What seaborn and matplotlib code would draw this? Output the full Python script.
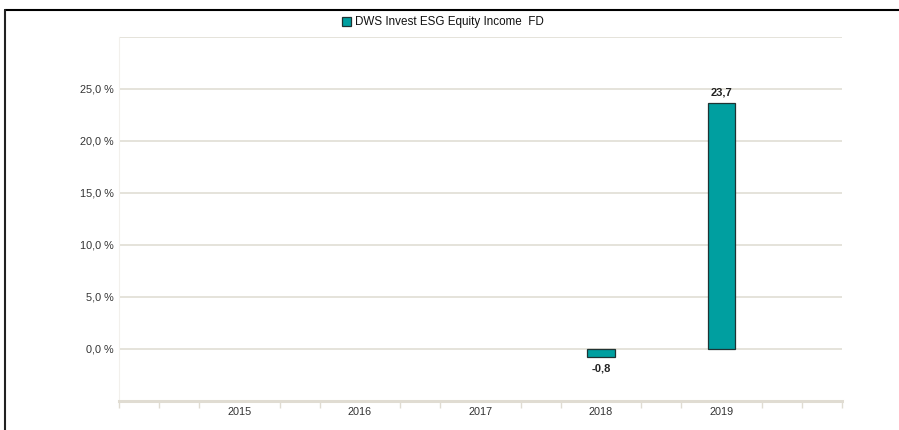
import numpy as np
import pandas as pd
import matplotlib
matplotlib.use("Agg")
import matplotlib.pyplot as plt
import seaborn as sns
from matplotlib.lines import Line2D
from matplotlib.patches import Rectangle

# Data
years = ["2015", "2016", "2017", "2018", "2019"]
returns = [np.nan, np.nan, np.nan, -0.8, 23.7]
series_name = "DWS Invest ESG Equity Income  FD"
ytick_values = [0, 5, 10, 15, 20, 25]

sns.set_theme(style="white")
plt.rcParams["font.family"] = ["Liberation Sans", "DejaVu Sans"]

bar_color = "#009fa0"
grid_color = "#e3e0d8"
axis_color = "#e0dcd2"
text_color = "#333333"

df = pd.DataFrame({"year": years, "ret": returns}).dropna()

fig = plt.figure(figsize=(8.99, 4.30), dpi=100)
ax = fig.add_axes([119 / 899, 1 - 401 / 430, 723 / 899, 364 / 430])

sns.barplot(data=df, x="year", y="ret", order=years, color=bar_color,
            width=0.225, edgecolor="#1f3333", linewidth=0.9, saturation=1,
            ax=ax, zorder=3)

ax.set_xlim(-1, 5)
ax.set_ylim(-5, 30)

# horizontal grid lines (30 % line drawn but not labelled)
for v in ytick_values + [30]:
    ax.axhline(v, color=grid_color, linewidth=1.3, zorder=1)

ax.set_yticks(ytick_values)
ax.set_yticklabels([f"{v:.1f} %".replace(".", ",") for v in ytick_values],
                   fontsize=7.8, color=text_color)
ax.tick_params(axis="y", length=0, pad=4)

ax.set_xticks(range(len(years)))
ax.set_xticklabels(years, fontsize=7.8, color=text_color)
ax.tick_params(axis="x", which="major", bottom=True, length=0, pad=4)
ax.set_xticks([-1 + i / 3 for i in range(19) if i % 3 != 0] + [-1, 5], minor=True)
ax.tick_params(axis="x", which="minor", bottom=True, length=5, width=1,
               color=axis_color, direction="out")

ax.set_xlabel("")
ax.set_ylabel("")
for side in ["top", "right"]:
    ax.spines[side].set_visible(False)
ax.spines["left"].set_color("#f2f0ec")
ax.spines["left"].set_linewidth(0.8)
ax.spines["bottom"].set_color(axis_color)
ax.spines["bottom"].set_linewidth(2.2)

# value labels
for c in ax.containers:
    for rect in c:
        h = rect.get_height()
        if np.isnan(h):
            continue
        xc = rect.get_x() + rect.get_width() / 2
        if h >= 0:
            ax.text(xc, h + 0.5, f"{h:.1f}".replace(".", ","), ha="center",
                    va="bottom", fontsize=8, color="#222222", fontweight="semibold")
        else:
            ax.text(xc, h - 0.6, f"{h:.1f}".replace(".", ","), ha="center",
                    va="top", fontsize=8, color="#222222", fontweight="semibold")

# legend at top
fig.patches.append(Rectangle((342 / 899, 1 - 26 / 430), 9 / 899, 9 / 430,
                             transform=fig.transFigure, facecolor=bar_color,
                             edgecolor="#1f3333", linewidth=0.9))
fig.text(355 / 899, 1 - 21.5 / 430, series_name, ha="left", va="center",
         fontsize=8.4, color="#111111")

# outer frame (top and left edges)
fig.add_artist(Line2D([5 / 899, 1], [1 - 10 / 430, 1 - 10 / 430],
                      transform=fig.transFigure, color="black", linewidth=1.5))
fig.add_artist(Line2D([5 / 899, 5 / 899], [0, 1 - 10 / 430],
                      transform=fig.transFigure, color="#222222", linewidth=1.5))

fig.savefig("out.png", dpi=100)
